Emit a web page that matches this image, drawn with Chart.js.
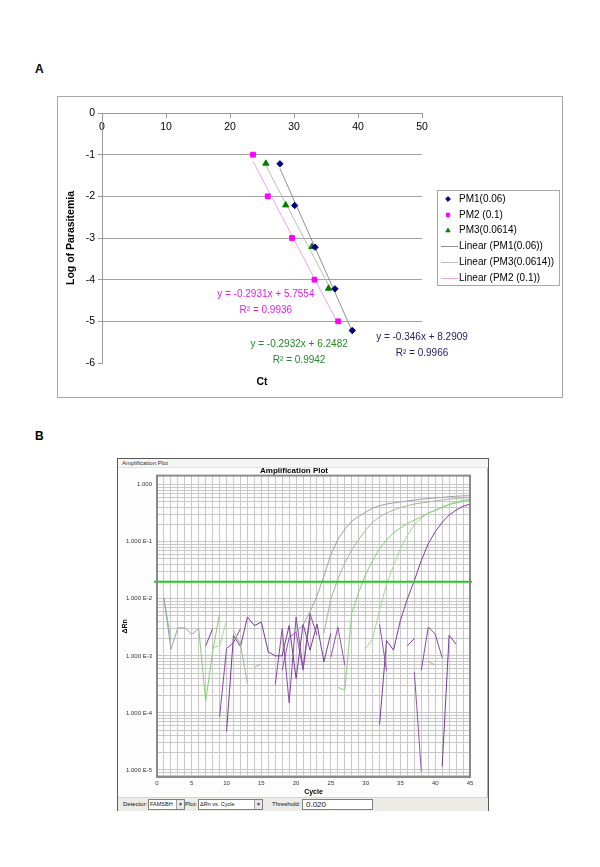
<!DOCTYPE html>
<html>
<head>
<meta charset="utf-8">
<script src="https://cdn.jsdelivr.net/npm/chart.js@4.4.1/dist/chart.umd.min.js"></script>
<style>
html,body{margin:0;padding:0;background:#fff;}
body{width:600px;height:867px;position:relative;overflow:hidden;font-family:"Liberation Sans",Arial,sans-serif;}
.panel{position:absolute;font-weight:bold;font-size:12px;color:#000;line-height:14px;}
canvas{position:absolute;display:block;}
#win{position:absolute;left:117px;top:458px;width:370px;height:351px;border:1px solid #5a5a5a;background:#fdfdfd;box-shadow:inset -1px -1px 0 #b0b0b0;}
#wbar{position:absolute;left:118px;top:459px;width:370px;height:8px;border-bottom:1px solid #e2e2e2;background:#f6f6f6;}
#wtitle{position:absolute;left:122px;top:459px;font-size:6px;line-height:8px;color:#333;}
#ctrl{position:absolute;left:118px;top:797px;width:370px;height:13px;background:#ecebe6;border-top:1px solid #d6d6d6;font-size:6px;color:#111;}
.t{position:absolute;top:2px;line-height:9px;white-space:nowrap;}
.box{position:absolute;top:1px;height:11px;border:1px solid #7f7f7f;background:#fff;line-height:9px;font-size:5.5px;padding-left:1px;box-sizing:border-box;white-space:nowrap;overflow:hidden;}
.arr{position:absolute;right:0;top:0;width:7px;height:9px;border-left:1px solid #a0a0a0;background:#e8e8e8;font-size:5px;line-height:9px;text-align:center;color:#333;}
</style>
</head>
<body>
<div class="panel" style="left:35px;top:62px;">A</div>
<canvas id="chartA" width="506" height="302" style="left:57px;top:96px;"></canvas>

<div class="panel" style="left:35px;top:429px;">B</div>
<div id="win"></div>
<div id="wbar"></div>
<div id="wtitle">Amplification Plot</div>
<canvas id="chartB" width="370" height="330" style="left:118px;top:466px;"></canvas>
<div id="ctrl">
  <span class="t" style="left:5px">Detector:</span>
  <div class="box" style="left:30px;width:37px">FAMSBH<div class="arr">&#9660;</div></div>
  <span class="t" style="left:67px">Plot:</span>
  <div class="box" style="left:80px;width:65px">&#916;Rn vs. Cycle<div class="arr">&#9660;</div></div>
  <span class="t" style="left:154px">Threshold:</span>
  <div class="box" id="thr" style="left:184px;width:71px;font-size:8px;padding-left:3px"></div>
</div>

<script>
// ---------------- Panel A data ----------------
const pm1Ct  = [27.8, 30.1, 33.3, 36.4, 39.1];
const pm1Log = [-1.22, -2.22, -3.22, -4.22, -5.22];
const pm2Ct  = [23.6, 25.9, 29.7, 33.2, 36.9];
const pm2Log = [-1, -2, -3, -4, -5];
const pm3Ct  = [25.6, 28.7, 32.8, 35.4];
const pm3Log = [-1.21, -2.21, -3.21, -4.21];
const fitPM1Ct = [27.8, 39.1];  const fitPM1Log = [-1.33, -5.24];
const fitPM3Ct = [25.6, 35.4];  const fitPM3Log = [-1.26, -4.13];
const fitPM2Ct = [23.6, 36.9];  const fitPM2Log = [-1.16, -5.06];
const seriesNamesA = ['PM1(0.06)', 'PM2 (0.1)', 'PM3(0.0614)',
                      'Linear (PM1(0.06))', 'Linear (PM3(0.0614))', 'Linear (PM2 (0.1))'];
const eqPM2 = ['y = -0.2931x + 5.7554', 'R\u00B2 = 0.9936'];
const eqPM3 = ['y = -0.2932x + 6.2482', 'R\u00B2 = 0.9942'];
const eqPM1 = ['y = -0.346x + 8.2909',  'R\u00B2 = 0.9966'];
const xTicksA = [0, 10, 20, 30, 40, 50];

// ---------------- Panel B data ----------------
const cycles = [1,2,3,4,5,6,7,8,9,10,11,12,13,14,15,16,17,18,19,20,21,22,23,24,25,26,27,28,29,30,31,32,33,34,35,36,37,38,39,40,41,42,43,44,45];
const threshold = 0.020;
const _ = null;
const ampGray = [1.05e-2,1.3e-3,3.1e-3,3.1e-3,2.4e-3,3.0e-3,_,_,_,_,_,_,_,_,_,_,_,_,_,2.6e-3,3.5e-3,6.0e-3,1.12e-2,2.5e-2,6.0e-2,0.11,0.166,0.23,0.28,0.33,0.39,0.43,0.46,0.48,0.50,0.52,0.54,0.56,0.575,0.59,0.60,0.62,0.63,0.64,0.645];
const ampGrayGreen = [_,_,_,_,_,_,_,_,_,_,2.8e-3,1.6e-3,3.2e-4,_,_,_,_,_,_,_,_,_,_,2.5e-3,1.0e-2,2.2e-2,4.3e-2,7.2e-2,0.11,0.16,0.22,0.275,0.32,0.36,0.40,0.43,0.46,0.48,0.50,0.52,0.54,0.56,0.575,0.59,0.60];
const ampGreen = [1.0e-2,1.9e-3,_,_,_,3.0e-3,1.6e-4,1.2e-3,5.5e-3,_,_,_,_,_,_,_,_,_,_,_,_,_,_,_,_,2.8e-4,2.5e-4,5.6e-3,1.3e-2,2.7e-2,4.7e-2,7.6e-2,0.107,0.145,0.174,0.21,0.24,0.275,0.32,0.355,0.40,0.45,0.48,0.51,0.54];
const ampLightGreen = [_,_,_,_,_,_,_,1.4e-3,1.5e-3,4.1e-3,_,_,_,_,_,_,_,_,_,_,_,_,_,_,_,_,_,_,_,1.35e-3,2.0e-3,6.3e-3,1.8e-2,3.8e-2,7.6e-2,0.13,0.20,0.26,0.32,0.36,0.41,0.46,0.50,0.54,0.56];
const ampPurple = [_,_,_,_,_,_,1.5e-3,3.0e-3,_,_,_,_,_,_,_,_,_,_,_,_,_,_,_,_,_,_,_,_,_,_,_,6.2e-5,1.86e-3,1.26e-3,4.2e-3,1.0e-2,2.1e-2,4.7e-2,9.3e-2,0.15,0.22,0.295,0.36,0.42,0.46];
const noiseGray = [_,_,_,_,_,_,_,_,_,_,_,_,_,6.3e-4,7.2e-4,_,_,_,_,_,_,_,_,_,_,_,_,_,_,_,_,_,_,_,_,_,_,_,7.9e-4,6.9e-4,_,_,_,_,_];
const noisePurple1 = [_,_,_,_,_,_,_,_,8.5e-5,1.35e-3,1.7e-3,3.0e-3,_,_,_,_,3.1e-4,3.0e-3,1.5e-4,4.8e-3,6.0e-4,5.5e-3,2.3e-3,_,_,_,_,_,_,_,_,_,_,_,_,_,_,5.6e-4,3.2e-3,2.4e-3,9.3e-4,_,_,_,_];
const noisePurple2 = [_,_,_,_,_,_,_,_,_,4.7e-5,2.3e-3,1.45e-3,4.8e-3,3.4e-3,3.9e-3,1.17e-3,1.0e-3,1.0e-3,3.4e-3,4.0e-4,3.6e-3,1.26e-3,3.6e-3,7.9e-4,2.5e-3,_,_,_,_,_,_,_,_,_,_,1.5e-3,2.0e-3,_,_,_,1.15e-5,2.3e-3,1.6e-3,_,_];
const noisePurple3 = [_,_,_,_,_,_,_,_,_,_,_,_,_,_,_,_,_,5.6e-4,2.1e-3,2.6e-3,5.6e-4,4.6e-3,_,_,9.5e-4,3.2e-3,6.9e-4,_,_,_,_,3.6e-3,5.5e-4,_,_,_,5.2e-4,9.3e-6,_,_,_,_,_,_,_];
const yDecadesB = [-6,-5,-4,-3,-2,-1,0];

Chart.defaults.font.family = '"Liberation Sans", Arial, sans-serif';

function pairs(xs, ys) { return xs.map((v, i) => ({x: v, y: ys[i]})); }
function byCycle(arr) { return cycles.map((c, i) => ({x: c, y: arr[i]})); }

// ---------------- Panel A ----------------
const eqLabels = [
  {lines: eqPM2, color: '#e81ee8', x: 25.6, y: -4.36},
  {lines: eqPM3, color: '#23872a', x: 30.8, y: -5.54},
  {lines: eqPM1, color: '#22226e', x: 50.0, y: -5.37}
];

const panelAExtras = {
  id: 'panelAExtras',
  afterDraw(chart) {
    const {ctx, chartArea: ca, scales: {x, y}} = chart;
    ctx.save();
    ctx.strokeStyle = '#a8a8a8'; ctx.lineWidth = 1;
    ctx.strokeRect(0.5, 0.5, chart.width - 1, chart.height - 1);
    ctx.fillStyle = '#000';
    ctx.font = 'bold 10.5px "Liberation Sans", Arial';
    ctx.textAlign = 'center'; ctx.textBaseline = 'middle';
    ctx.fillText('Ct', (ca.left + ca.right) / 2, ca.bottom + 19);
    ctx.font = '10px "Liberation Sans", Arial';
    eqLabels.forEach(l => {
      ctx.fillStyle = l.color;
      l.lines.forEach((t, k) => ctx.fillText(t, x.getPixelForValue(l.x), y.getPixelForValue(l.y) + k * 16));
    });
    // legend
    const lx = ca.right + 15, ly = 94, lw = 122, lh = 95;
    ctx.fillStyle = '#fff'; ctx.fillRect(lx, ly, lw, lh);
    ctx.strokeStyle = '#a8a8a8'; ctx.strokeRect(lx + 0.5, ly + 0.5, lw, lh);
    ctx.textAlign = 'left';
    chart.data.datasets.forEach((ds, i) => {
      const cy = ly + 9 + i * 15.8;
      if (ds.showLine) {
        ctx.strokeStyle = ds.borderColor; ctx.lineWidth = 1;
        ctx.beginPath(); ctx.moveTo(lx + 4, Math.round(cy) + 0.5); ctx.lineTo(lx + 21, Math.round(cy) + 0.5); ctx.stroke();
      } else {
        ctx.fillStyle = ds.backgroundColor; ctx.strokeStyle = ds.borderColor; ctx.lineWidth = 1;
        Chart.helpers.drawPoint(ctx, {pointStyle: ds.pointStyle, radius: 2.4, borderWidth: 1, rotation: 0}, lx + 11, cy);
      }
      ctx.fillStyle = '#000';
      ctx.fillText(ds.label, lx + 22, cy);
    });
    ctx.restore();
  }
};

new Chart(document.getElementById('chartA'), {
  type: 'scatter',
  data: {
    datasets: [
      {label: seriesNamesA[0], data: pairs(pm1Ct, pm1Log), showLine: false, pointStyle: 'rectRot', pointRadius: 3.2,
       backgroundColor: '#000080', borderColor: '#000080', borderWidth: 1},
      {label: seriesNamesA[1], data: pairs(pm2Ct, pm2Log), showLine: false, pointStyle: 'rect', pointRadius: 3.4,
       backgroundColor: '#ff00ff', borderColor: '#ff00ff', borderWidth: 1},
      {label: seriesNamesA[2], data: pairs(pm3Ct, pm3Log), showLine: false, pointStyle: 'triangle', pointRadius: 3.6,
       backgroundColor: '#008000', borderColor: '#008000', borderWidth: 1},
      {label: seriesNamesA[3], data: pairs(fitPM1Ct, fitPM1Log), showLine: true, borderColor: '#8e8e98', borderWidth: 1, pointRadius: 0},
      {label: seriesNamesA[4], data: pairs(fitPM3Ct, fitPM3Log), showLine: true, borderColor: '#b2c2b2', borderWidth: 1, pointRadius: 0},
      {label: seriesNamesA[5], data: pairs(fitPM2Ct, fitPM2Log), showLine: true, borderColor: '#eaa4ea', borderWidth: 1, pointRadius: 0}
    ]
  },
  options: {
    animation: false, responsive: false, devicePixelRatio: 1, events: [],
    layout: {padding: {top: 17, right: 141, bottom: 35, left: 0}},
    plugins: {legend: {display: false}, tooltip: {enabled: false}},
    scales: {
      x: {
        type: 'linear', position: {y: 0}, min: xTicksA[0], max: xTicksA[xTicksA.length - 1],
        ticks: {stepSize: 10, color: '#000', font: {size: 10.5}, padding: 4, maxRotation: 0},
        grid: {drawOnChartArea: false, drawTicks: true, tickLength: 4, color: '#9a9a9a'},
        border: {display: true, color: '#9a9a9a'}
      },
      y: {
        type: 'linear', min: -6, max: 0,
        ticks: {stepSize: 1, color: '#000', font: {size: 10.5}, padding: 3},
        grid: {
          color: c => (c.tick && (c.tick.value === 0 || c.tick.value === -6)) ? 'rgba(0,0,0,0)' : '#a2a2a2',
          tickColor: '#9a9a9a', tickLength: 4
        },
        border: {display: true, color: '#9a9a9a'},
        title: {display: true, text: 'Log of Parasitemia', color: '#000',
                font: {size: 10.5, weight: 'bold', lineHeight: 1.2}, padding: {top: 8, bottom: 0}},
        afterFit: s => { s.width = 45; }
      }
    }
  },
  plugins: [panelAExtras]
});

// ---------------- Panel B ----------------
document.getElementById('thr').textContent = threshold.toFixed(3);

const plotFrame = {
  id: 'plotFrame',
  afterDatasetsDraw(chart) {
    const {ctx, chartArea: ca} = chart;
    ctx.save();
    ctx.strokeStyle = '#8a8a8a'; ctx.lineWidth = 2;
    ctx.strokeRect(ca.left, ca.top, ca.right - ca.left, ca.bottom - ca.top);
    ctx.restore();
  }
};

function lineDs(label, arr, color) {
  return {label, data: byCycle(arr), borderColor: color, borderWidth: 1, pointRadius: 0, spanGaps: false, tension: 0};
}

new Chart(document.getElementById('chartB'), {
  type: 'line',
  data: {
    datasets: [
      {label: 'Threshold', data: [{x: -1, y: threshold}, {x: 46, y: threshold}], borderColor: '#1fcc1f', borderWidth: 2,
       pointRadius: 0, clip: {left: 3, right: 2, top: 0, bottom: 0}},
      lineDs('well 1', ampGray, '#a59dad'),
      lineDs('well 2', ampGrayGreen, '#a4b69c'),
      lineDs('well 3', ampGreen, '#8ccb7c'),
      lineDs('well 4', ampLightGreen, '#a4d896'),
      lineDs('well 5', ampPurple, '#7c3e9e'),
      lineDs('noise a', noiseGray, '#a8b2a4'),
      lineDs('noise b', noisePurple1, '#8a48a8'),
      lineDs('noise c', noisePurple2, '#7a3a98'),
      lineDs('noise d', noisePurple3, '#9454b0')
    ]
  },
  options: {
    animation: false, responsive: false, devicePixelRatio: 1, events: [],
    layout: {padding: {top: 0, right: 18, bottom: 0, left: 0}},
    plugins: {
      legend: {display: false}, tooltip: {enabled: false},
      title: {display: true, text: 'Amplification Plot', color: '#000',
              font: {size: 8, weight: 'bold', lineHeight: 1.2}, padding: {top: 0, bottom: 0}}
    },
    scales: {
      x: {
        type: 'linear', min: 0, max: 45,
        ticks: {stepSize: 1, autoSkip: false, maxRotation: 0, color: '#333', font: {size: 6}, padding: 3,
                callback: v => (v % 5 === 0 ? String(v) : '')},
        grid: {color: '#c8c8c8', drawTicks: false},
        border: {display: false},
        title: {display: true, text: 'Cycle', color: '#000', font: {size: 7, weight: 'bold', lineHeight: 1.2}, padding: {top: 0, bottom: 0}},
        afterFit: s => { s.height = 19; }
      },
      y: {
        type: 'logarithmic', min: 7.5e-6, max: 1.45,
        afterBuildTicks: s => {
          const t = [];
          yDecadesB.forEach(e => { for (let m = 1; m <= 9; m++) { const v = m * Math.pow(10, e); if (v >= s.min && v <= s.max) t.push({value: v}); } });
          s.ticks = t;
        },
        ticks: {
          autoSkip: false, color: '#333', font: {size: 6}, padding: 5,
          callback: v => {
            const e = Math.log10(v), n = Math.round(e);
            if (Math.abs(e - n) > 1e-6) return '';
            return n === 0 ? '1.000' : '1.000 E' + n;
          }
        },
        grid: {color: '#c8c8c8', drawTicks: false},
        border: {display: false},
        title: {display: true, text: '\u0394Rn', color: '#000', font: {size: 7, weight: 'bold', lineHeight: 1.2}, padding: {top: 3, bottom: 0}},
        afterFit: s => { s.width = 39; }
      }
    }
  },
  plugins: [plotFrame]
});
</script>
</body>
</html>
